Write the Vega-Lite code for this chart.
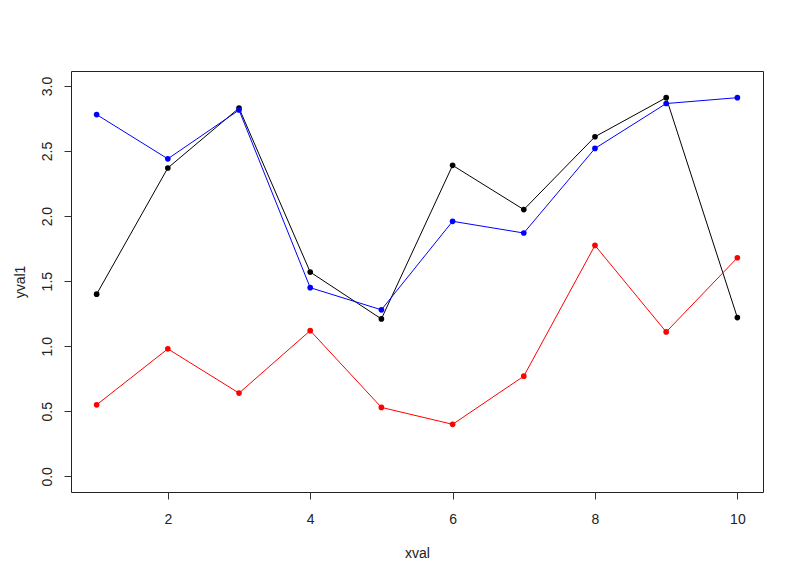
{
  "$schema": "https://vega.github.io/schema/vega-lite/v6.json",
  "width": 692,
  "height": 421,
  "autosize": {"type": "none"},
  "padding": {"left": 71, "top": 71, "right": 37, "bottom": 89},
  "background": "white",
  "config": {
    "view": {"stroke": "#222", "strokeWidth": 1},
    "font": "Liberation Sans",
    "axis": {
      "domain": false,
      "grid": false,
      "ticks": true,
      "tickSize": 7,
      "tickColor": "#333",
      "labelColor": "#222",
      "labelFont": "Liberation Sans",
      "labelFontSize": 14,
      "titleFont": "Liberation Sans",
      "titleFontSize": 14,
      "titleFontWeight": "normal",
      "titleColor": "#222"
    }
  },
  "data": {
    "values": [
      {"xval": 1, "y": 1.40, "series": "s1"},
      {"xval": 2, "y": 2.37, "series": "s1"},
      {"xval": 3, "y": 2.83, "series": "s1"},
      {"xval": 4, "y": 1.57, "series": "s1"},
      {"xval": 5, "y": 1.21, "series": "s1"},
      {"xval": 6, "y": 2.39, "series": "s1"},
      {"xval": 7, "y": 2.05, "series": "s1"},
      {"xval": 8, "y": 2.61, "series": "s1"},
      {"xval": 9, "y": 2.91, "series": "s1"},
      {"xval": 10, "y": 1.22, "series": "s1"},
      {"xval": 1, "y": 2.78, "series": "s2"},
      {"xval": 2, "y": 2.44, "series": "s2"},
      {"xval": 3, "y": 2.815, "series": "s2"},
      {"xval": 4, "y": 1.45, "series": "s2"},
      {"xval": 5, "y": 1.28, "series": "s2"},
      {"xval": 6, "y": 1.96, "series": "s2"},
      {"xval": 7, "y": 1.87, "series": "s2"},
      {"xval": 8, "y": 2.52, "series": "s2"},
      {"xval": 9, "y": 2.865, "series": "s2"},
      {"xval": 10, "y": 2.91, "series": "s2"},
      {"xval": 1, "y": 0.55, "series": "s3"},
      {"xval": 2, "y": 0.98, "series": "s3"},
      {"xval": 3, "y": 0.64, "series": "s3"},
      {"xval": 4, "y": 1.12, "series": "s3"},
      {"xval": 5, "y": 0.53, "series": "s3"},
      {"xval": 6, "y": 0.40, "series": "s3"},
      {"xval": 7, "y": 0.77, "series": "s3"},
      {"xval": 8, "y": 1.775, "series": "s3"},
      {"xval": 9, "y": 1.11, "series": "s3"},
      {"xval": 10, "y": 1.68, "series": "s3"}
    ]
  },
  "encoding": {
    "x": {
      "field": "xval",
      "type": "quantitative",
      "scale": {"domain": [0.64, 10.36], "nice": false, "zero": false},
      "axis": {"title": "xval", "values": [2, 4, 6, 8, 10], "labelPadding": 13, "titlePadding": 20}
    },
    "y": {
      "field": "y",
      "type": "quantitative",
      "scale": {"domain": [-0.12, 3.115], "nice": false, "zero": false},
      "axis": {
        "title": "yval1",
        "values": [0, 0.5, 1, 1.5, 2, 2.5, 3],
        "format": ".1f",
        "labelAngle": -90,
        "labelAlign": "center",
        "labelBaseline": "alphabetic",
        "labelPadding": 13,
        "titleBaseline": "alphabetic",
        "titlePadding": 16
      }
    },
    "color": {
      "field": "series",
      "type": "nominal",
      "scale": {"domain": ["s1", "s2", "s3"], "range": ["#000000", "#0000ff", "#ff0000"]},
      "legend": null
    }
  },
  "layer": [
    {"mark": {"type": "line", "strokeWidth": 1}},
    {"mark": {"type": "point", "filled": true, "size": 32, "opacity": 1}}
  ]
}
